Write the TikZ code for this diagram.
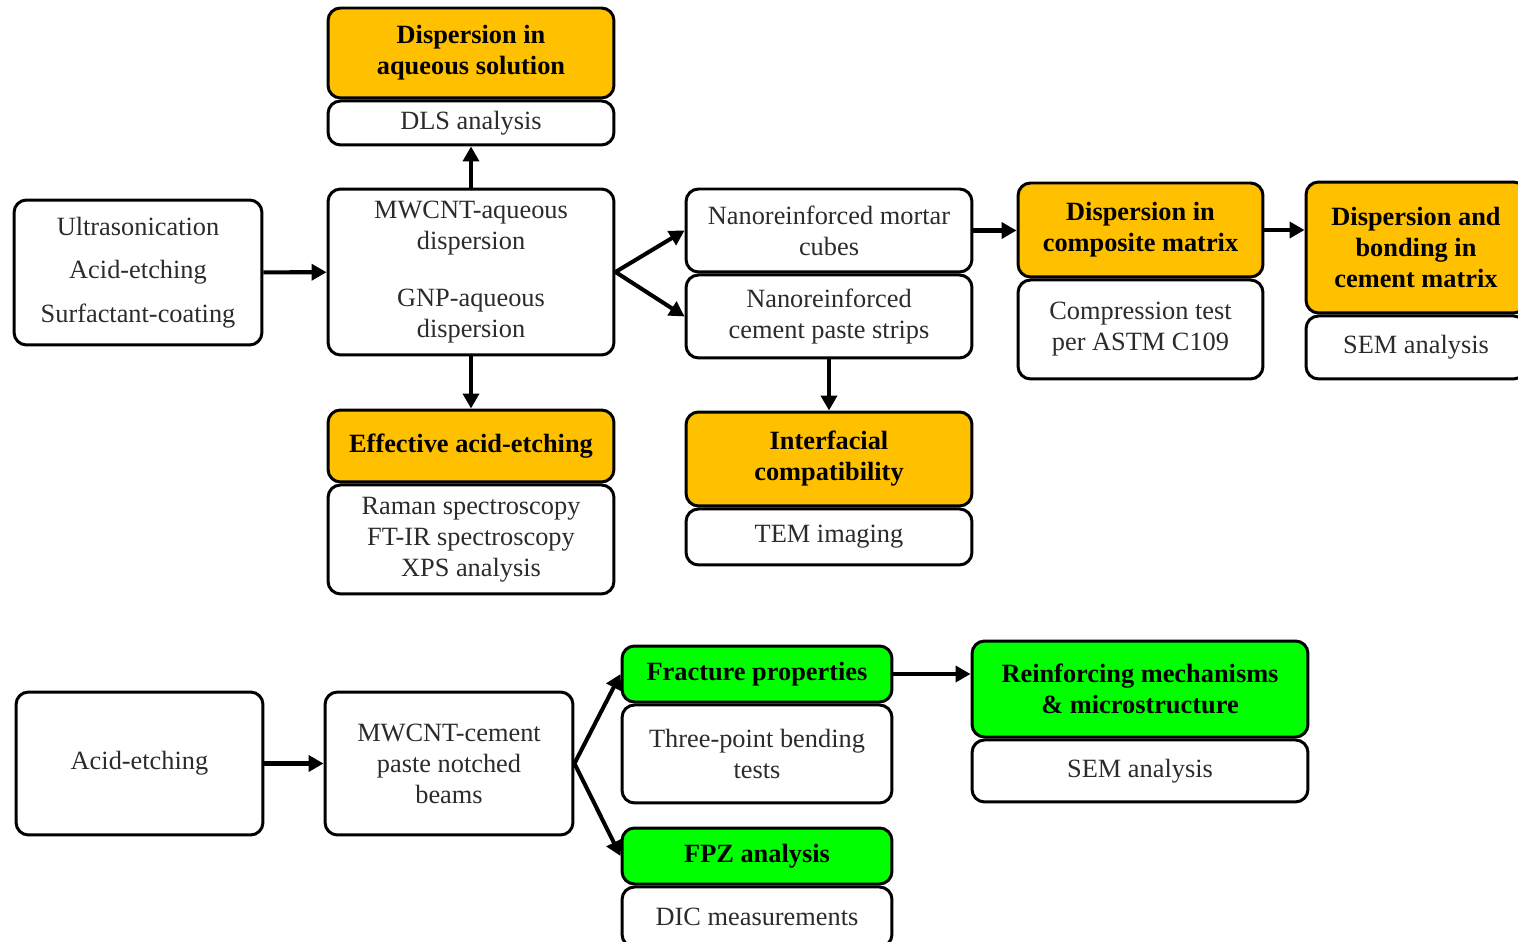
\documentclass[tikz,border=0pt]{standalone}
\usepackage{fontspec}
\setmainfont{Liberation Serif}
\usetikzlibrary{arrows.meta,positioning}
\definecolor{gold}{HTML}{FFC000}
\definecolor{lime}{HTML}{00FF00}
\definecolor{txt}{HTML}{2B2B2B}
\begin{document}
\begin{tikzpicture}[x=0.02cm,y=-0.02cm,
  box/.style={draw,line width=1.7pt,rounded corners=0.25cm,inner sep=0pt,align=center,text=txt,
    font=\fontsize{15}{17.6}\selectfont},
  goldbox/.style={box,fill=gold,text=black,font=\fontsize{15}{17.6}\selectfont\bfseries},
  limebox/.style={box,fill=lime,text=black,font=\fontsize{15}{17.6}\selectfont\bfseries},
  arr/.style={line width=2.3pt,-{Triangle[length=0.3cm,width=0.32cm]}}]
\useasboundingbox(0,0)rectangle(1518,942);
\node[goldbox,minimum width=5.72cm,minimum height=1.8cm](aqhead)at(471,53){Dispersion in\\aqueous solution};
\node[box,minimum width=5.72cm,minimum height=0.88cm,below=0pt of aqhead](dls){DLS analysis};
\node[box,minimum width=4.96cm,minimum height=2.9cm](ultra)at(138,272.5){Ultrasonication\\[7pt]Acid-etching\\[7pt]Surfactant-coating};
\node[box,minimum width=5.72cm,minimum height=3.32cm](mw)at(471,272){MWCNT-aqueous\\dispersion\\[14.8pt]GNP-aqueous\\dispersion};
\node[goldbox,minimum width=5.72cm,minimum height=1.44cm](ethead)at(471,446){Effective acid-etching};
\node[box,minimum width=5.72cm,minimum height=2.18cm,below=0pt of ethead](spec){Raman spectroscopy\\FT-IR spectroscopy\\XPS analysis};
\node[box,minimum width=5.72cm,minimum height=1.66cm](mort)at(829,230.5){Nanoreinforced mortar\\cubes};
\node[box,minimum width=5.72cm,minimum height=1.66cm,below=0pt of mort](strips){Nanoreinforced\\cement paste strips};
\node[goldbox,minimum width=5.72cm,minimum height=1.88cm](ifhead)at(829,459){Interfacial\\compatibility};
\node[box,minimum width=5.72cm,minimum height=1.12cm,below=0pt of ifhead](tem){TEM imaging};
\node[goldbox,minimum width=4.9cm,minimum height=1.88cm](cmhead)at(1140.5,230){Dispersion in\\composite matrix};
\node[box,minimum width=4.9cm,minimum height=1.98cm,below=0pt of cmhead](comp){Compression test\\per ASTM C109};
\node[goldbox,minimum width=4.4cm,minimum height=2.62cm](bdhead)at(1416,247.5){Dispersion and\\bonding in\\cement matrix};
\node[box,minimum width=4.4cm,minimum height=1.26cm,below=0pt of bdhead](sema){SEM analysis};
\node[box,minimum width=4.94cm,minimum height=2.86cm](acid)at(139.5,763.5){Acid-etching};
\node[box,minimum width=4.96cm,minimum height=2.86cm](mwc)at(449,763.5){MWCNT-cement\\paste notched\\beams};
\node[limebox,minimum width=5.4cm,minimum height=1.12cm](frhead)at(757,674){Fracture properties};
\node[box,minimum width=5.4cm,minimum height=1.96cm,below=0pt of frhead](tpb){Three-point bending\\tests};
\node[limebox,minimum width=5.4cm,minimum height=1.12cm](fpzhead)at(757,856){FPZ analysis};
\node[box,minimum width=5.4cm,minimum height=1.2cm,below=0pt of fpzhead](dic){DIC measurements};
\node[limebox,minimum width=6.72cm,minimum height=1.92cm](rmhead)at(1140,689){Reinforcing mechanisms\\\& microstructure};
\node[box,minimum width=6.72cm,minimum height=1.24cm,below=0pt of rmhead](semb){SEM analysis};
\draw[arr](ultra)--(mw);
\draw[arr](mw)--(dls);
\draw[arr](mw)--(ethead);
\draw[arr](mw.east)--(mort.west);
\draw[arr](mw.east)--(strips.west);
\draw[arr](strips)--(ifhead);
\draw[arr](mort.east)--(mort.east-|cmhead.west);
\draw[arr](cmhead.east)--(cmhead.east-|bdhead.west);
\draw[arr](acid)--(mwc);
\draw[arr](mwc.east)--(frhead.west);
\draw[arr](mwc.east)--(fpzhead.west);
\draw[arr](frhead.east)--(frhead.east-|rmhead.west);
\end{tikzpicture}
\end{document}
